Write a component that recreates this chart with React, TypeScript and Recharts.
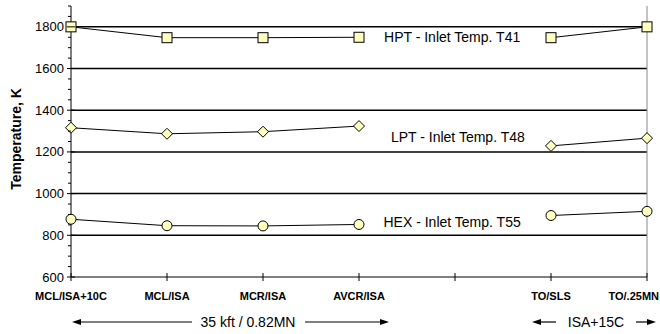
import { LineChart, Line, XAxis, YAxis, ReferenceLine, ReferenceDot } from "recharts";

// operating points along the x axis (index 4 is an empty gap)
const categories = ["MCL/ISA+10C", "MCL/ISA", "MCR/ISA", "AVCR/ISA", "", "TO/SLS", "TO/.25MN"];
const hptT41 = [1800, 1748, 1748, 1750, null, 1748, 1800];
const lptT48 = [1316, 1287, 1297, 1324, null, 1229, 1266];
const hexT55 = [877, 846, 845, 852, null, 895, 915];

const yTicks = [600, 650, 700, 750, 800, 850, 900, 950, 1000, 1050, 1100, 1150, 1200, 1250, 1300, 1350, 1400, 1450, 1500, 1550, 1600, 1650, 1700, 1750, 1800, 1850, 1900];
const yLabelled = [600, 800, 1000, 1200, 1400, 1600, 1800];
const gridLines = [800, 1000, 1200, 1400, 1600, 1800];

const FONT = "'Liberation Sans', Arial, sans-serif";
const FILL = "#FFFFC0";

const data = categories.map((c, i) => ({
  x: i,
  hpt: hptT41[i],
  lpt: lptT48[i],
  hex: hexT55[i],
}));

function SquareDot(p: any) {
  if (p.cy == null || p.value == null) return <g key={p.key} />;
  return <rect key={p.key} x={p.cx - 5} y={p.cy - 5} width={10} height={10} fill={FILL} stroke="#000" strokeWidth={1} />;
}

function DiamondDot(p: any) {
  if (p.cy == null || p.value == null) return <g key={p.key} />;
  const { cx, cy } = p;
  return (
    <polygon
      key={p.key}
      points={`${cx},${cy - 5.5} ${cx + 5.5},${cy} ${cx},${cy + 5.5} ${cx - 5.5},${cy}`}
      fill={FILL}
      stroke="#000"
      strokeWidth={1}
    />
  );
}

function CircleDot(p: any) {
  if (p.cy == null || p.value == null) return <g key={p.key} />;
  return <circle key={p.key} cx={p.cx} cy={p.cy} r={5} fill={FILL} stroke="#000" strokeWidth={1} />;
}

function YTick(p: any) {
  const v = p.payload.value;
  const major = yLabelled.includes(v);
  return (
    <g>
      <line x1={p.x - (major ? 4 : 3)} x2={p.x + (major ? 4 : 0)} y1={p.y} y2={p.y} stroke="#000" />
      {major && (
        <text x={p.x - 7} y={p.y} dy={4.5} textAnchor="end" fontSize={13} fontFamily={FONT} fill="#000">
          {v}
        </text>
      )}
    </g>
  );
}

function XTick(p: any) {
  const i = p.payload.value;
  // last label sits flush with the right edge, as in the original
  const last = i === categories.length - 1;
  return (
    <g>
      <line x1={p.x} x2={p.x} y1={p.y - 4} y2={p.y + 4} stroke="#000" />
      <text
        x={last ? 659 : p.x}
        y={p.y + 23}
        textAnchor={last ? "end" : "middle"}
        fontSize={11}
        fontWeight="bold"
        fontFamily={FONT}
        fill="#000"
      >
        {categories[i]}
      </text>
    </g>
  );
}

function seriesLabel(text: string) {
  return (props: any) => {
    const vb = props.viewBox;
    return (
      <text x={vb.x} y={vb.y} dy={5} textAnchor="middle" fontSize={14} fontFamily={FONT} fill="#000">
        {text}
      </text>
    );
  };
}

function Arrow({ x1, x2, y }: { x1: number; x2: number; y: number }) {
  // arrowhead at x2
  const dir = x2 > x1 ? 1 : -1;
  return (
    <g>
      <line x1={x1} x2={x2 - dir * 6} y1={y} y2={y} stroke="#000" strokeWidth={1.2} />
      <polygon points={`${x2},${y} ${x2 - dir * 9},${y - 3} ${x2 - dir * 9},${y + 3}`} fill="#000" />
    </g>
  );
}

export default function App() {
  return (
    <div style={{ position: "relative", width: 660, height: 334, background: "#fff" }}>
      <style>{`body{margin:0}`}</style>
      <LineChart width={660} height={334} data={data} margin={{ top: 6, right: 13, bottom: 0, left: 0 }}>
        <XAxis
          dataKey="x"
          type="number"
          domain={[0, 6]}
          ticks={[0, 1, 2, 3, 4, 5, 6]}
          interval={0}
          height={57}
          tickSize={0}
          tickMargin={0}
          tick={XTick}
          axisLine={{ stroke: "#000" }}
          tickLine={false}
        />
        <YAxis
          type="number"
          domain={[600, 1900]}
          ticks={yTicks}
          interval={0}
          width={71}
          tickSize={0}
          tickMargin={0}
          tick={YTick}
          axisLine={{ stroke: "#000" }}
          tickLine={false}
        />
        {gridLines.map((g) => (
          <ReferenceLine key={g} y={g} stroke="#000" strokeWidth={1.5} ifOverflow="extendDomain" />
        ))}
        <ReferenceLine x={6} stroke="#888" strokeWidth={1} />
        <Line dataKey="hpt" stroke="#000" strokeWidth={1} dot={SquareDot} isAnimationActive={false} connectNulls={false} />
        <Line dataKey="lpt" stroke="#000" strokeWidth={1} dot={DiamondDot} isAnimationActive={false} connectNulls={false} />
        <Line dataKey="hex" stroke="#000" strokeWidth={1} dot={CircleDot} isAnimationActive={false} connectNulls={false} />
        <ReferenceDot x={3.97} y={1752} r={0} stroke="none" label={seriesLabel("HPT - Inlet Temp. T41")} />
        <ReferenceDot x={4.03} y={1272} r={0} stroke="none" label={seriesLabel("LPT - Inlet Temp. T48")} />
        <ReferenceDot x={3.97} y={866} r={0} stroke="none" label={seriesLabel("HEX - Inlet Temp. T55")} />
      </LineChart>
      <svg width={660} height={334} style={{ position: "absolute", left: 0, top: 0, pointerEvents: "none" }}>
        <text
          transform="translate(21,139) rotate(-90)"
          textAnchor="middle"
          fontSize={14}
          fontWeight="bold"
          fontFamily={FONT}
          fill="#000"
        >
          Temperature, K
        </text>
        <Arrow x1={192} x2={72} y={322} />
        <text x={248} y={327} textAnchor="middle" fontSize={14} fontFamily={FONT} fill="#000">
          35 kft / 0.82MN
        </text>
        <Arrow x1={305} x2={389} y={322} />
        <Arrow x1={556} x2={532} y={322} />
        <text x={596} y={327} textAnchor="middle" fontSize={14} fontFamily={FONT} fill="#000">
          ISA+15C
        </text>
        <Arrow x1={636} x2={656} y={322} />
      </svg>
    </div>
  );
}
